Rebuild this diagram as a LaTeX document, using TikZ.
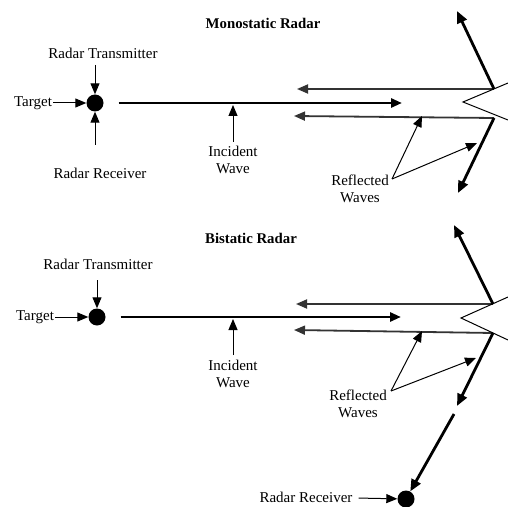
\documentclass[tikz,border=0pt]{standalone}
\usepackage{fontspec}
\setmainfont{Liberation Serif}
\usetikzlibrary{arrows.meta}

\tikzset{
    lbl/.style={font=\fontsize{15bp}{16.5bp}\selectfont, align=center, inner sep=0pt},
    ttl/.style={lbl, font=\fontsize{14.8bp}{16bp}\selectfont\bfseries},
    dot/.style={circle, fill=black, minimum size=17bp, inner sep=0pt},
    tip/.style={-{Triangle[length=11bp,width=9bp]}},
    pointer/.style={tip, line width=1bp},
    wave/.style={tip, line width=2.8bp},
    echo/.style={tip, line width=1.8bp, draw=black!80, fill=black!80},
    bounce/.style={-{Triangle[length=12bp,width=10bp]}, line width=2.8bp},
}

\begin{document}
\begin{tikzpicture}[x=1bp, y=-1bp]
    \useasboundingbox (0,0) rectangle (508,507);

    % ---- monostatic ----
    \node[ttl] (title1) at (263,23) {Monostatic Radar};
    \node[dot] (tx1) at (95,103) {}; % target, transmitter and receiver
    \node[lbl] (trans1) at (103,53) {Radar Transmitter};
    \node[lbl] (recv1) at (100,173) {Radar Receiver};
    \node[lbl] (targ1) at (33,103) {Target};
    \node[lbl] (inc1) at (233,160) {Incident\\Wave};
    \node[lbl] (refl1) at (360,189) {Reflected\\Waves};

    \coordinate (t1top) at (95,65);
    \coordinate (t1bot) at (95,145);
    \coordinate (hit1) at (402,103); % incident wave tip
    \coordinate (up1) at (494,89); % upper corner of target
    \coordinate (lo1) at (494,118); % lower corner of target
    \coordinate (echoA1) at (297,89);
    \coordinate (echoB1) at (294,116);
    \coordinate (outA1) at (457,11);
    \coordinate (outB1) at (458,193);
    \coordinate (rw1) at (392,179);
    \coordinate (rwA1) at (422,116);
    \coordinate (rwB1) at (477,143);

    \draw[pointer] (t1top) -- (tx1);
    \draw[pointer] (t1bot) -- (tx1);
    \draw[pointer, shorten <=1bp] (targ1) -- (tx1);
    \draw[wave, shorten <=15bp] (tx1) -- (hit1); % incident wave
    \draw[pointer, shorten >=0.5bp] (inc1.north |- 0,142) -- (inc1.north |- 0,104.5);
    \draw[echo] (up1) -- (echoA1); % upper reflection back
    \draw[echo] (lo1) -- (echoB1); % lower reflection back
    \draw[line width=1bp] (508,83) -- (463,102) -- (508,120); % target edge
    \draw[bounce] (up1) -- (outA1);
    \draw[bounce] (lo1) -- (outB1);
    \draw[pointer] (rw1) -- (rwA1);
    \draw[pointer] (rw1) -- (rwB1);

    % ---- bistatic ----
    \node[ttl] (title2) at (251,238) {Bistatic Radar};
    \node[dot] (tx2) at (97,317) {}; % target and transmitter
    \node[dot] (rx2) at (406,499) {}; % receiver
    \node[lbl] (trans2) at (98,264) {Radar Transmitter};
    \node[lbl] (targ2) at (35,317) {Target};
    \node[lbl] (inc2) at (233,374) {Incident\\Wave};
    \node[lbl] (refl2) at (358,404) {Reflected\\Waves};
    \node[lbl] (recv2) at (306,497) {Radar Receiver};

    \coordinate (t2top) at (97,280);
    \coordinate (hit2) at (401,317);
    \coordinate (up2) at (493,304);
    \coordinate (lo2) at (493,333);
    \coordinate (echoA2) at (296,304);
    \coordinate (echoB2) at (294,330);
    \coordinate (outA2) at (454,225);
    \coordinate (outB2) at (457,406);
    \coordinate (resume2) at (454,414); % path on towards receiver
    \coordinate (rw2) at (391,391);
    \coordinate (rwA2) at (422,331);
    \coordinate (rwB2) at (476,358);

    \draw[pointer] (t2top) -- (tx2);
    \draw[pointer, shorten <=1bp] (targ2) -- (tx2);
    \draw[wave, shorten <=15bp] (tx2) -- (hit2);
    \draw[pointer, shorten >=0.5bp] (inc2.north |- 0,355) -- (inc2.north |- 0,318.5);
    \draw[echo] (up2) -- (echoA2);
    \draw[echo] (lo2) -- (echoB2);
    \draw[line width=1bp] (508,297) -- (461,318) -- (508,340); % target edge
    \draw[bounce] (up2) -- (outA2);
    \draw[bounce] (lo2) -- (outB2);
    \draw[bounce] (resume2) -- (rx2);
    \draw[pointer] (rw2) -- (rwA2);
    \draw[pointer] (rw2) -- (rwB2);
    \draw[pointer, shorten <=6bp] (recv2) -- (rx2);
\end{tikzpicture}
\end{document}
